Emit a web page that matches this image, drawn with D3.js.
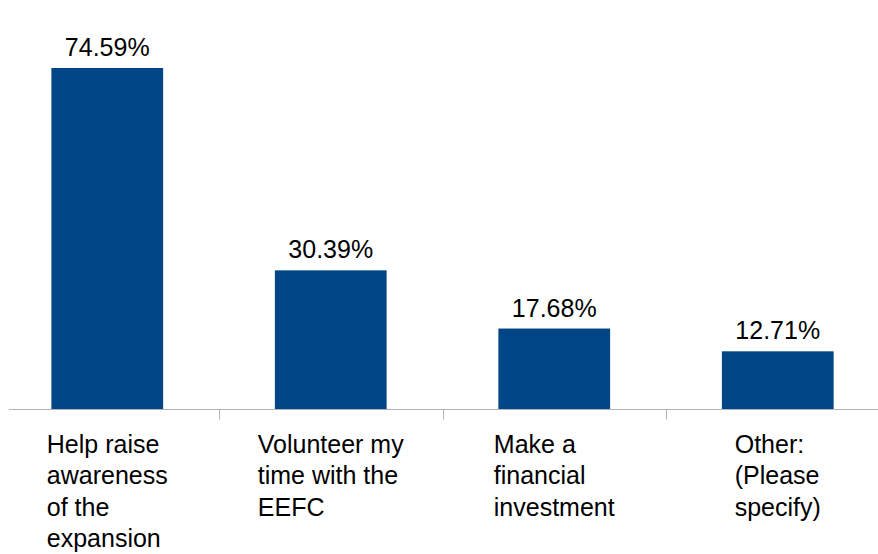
<!DOCTYPE html>
<html>
<head>
<meta charset="utf-8">
<script src="https://cdn.jsdelivr.net/npm/d3@7"></script>
<style>
  html, body { margin: 0; padding: 0; background: #fff; }
  svg { display: block; }
  text { font-family: "Liberation Sans", Arial, sans-serif; fill: #000; }
</style>
</head>
<body>
<svg id="chart" width="878" height="554"></svg>
<script>
// Survey responses: how people would support the expansion
const categories = [
  ["Help raise", "awareness", "of the", "expansion"],
  ["Volunteer my", "time with the", "EEFC"],
  ["Make a", "financial", "investment"],
  ["Other:", "(Please", "specify)"]
];
const values = [74.59, 30.39, 17.68, 12.71];
const valueLabels = ["74.59%", "30.39%", "17.68%", "12.71%"];

const svg = d3.select("#chart");
const baseY = 409.5;
const fontSize = 25;
const lineHeight = 31.5;

const keys = categories.map((c, i) => i);

const x = d3.scaleBand()
  .domain(keys)
  .range([-4.5, 889.5])
  .paddingInner(0.5)
  .paddingOuter(0.25);

const y = d3.scaleLinear()
  .domain([0, 80])
  .range([baseY, baseY - 366.3]);

const step = x.step();

// Bars
svg.append("g")
  .selectAll("rect")
  .data(values)
  .join("rect")
  .attr("x", (d, i) => x(i))
  .attr("width", x.bandwidth())
  .attr("y", d => y(d))
  .attr("height", d => y(0) - y(d))
  .attr("fill", "#004586");

// Category axis line and separators
const axis = svg.append("g").attr("stroke", "#b3b3b3").attr("stroke-width", 1);
axis.append("line")
  .attr("x1", 9).attr("x2", 878)
  .attr("y1", baseY).attr("y2", baseY);
axis.selectAll("line.tick")
  .data(keys.slice(1))
  .join("line")
  .attr("class", "tick")
  .attr("x1", i => Math.round(x(i) - step * 0.25) + 0.5)
  .attr("x2", i => Math.round(x(i) - step * 0.25) + 0.5)
  .attr("y1", baseY)
  .attr("y2", baseY + 10);

// Value labels
svg.append("g")
  .selectAll("text")
  .data(values)
  .join("text")
  .attr("x", (d, i) => x(i) + x.bandwidth() / 2)
  .attr("y", d => y(d) - 12)
  .attr("text-anchor", "middle")
  .attr("font-size", fontSize)
  .text((d, i) => valueLabels[i]);

// Category labels: block centred under the bar, lines left-aligned
const labelGroups = svg.append("g")
  .selectAll("g")
  .data(categories)
  .join("g");

labelGroups.each(function (lines, i) {
  const g = d3.select(this);
  const t = g.append("text").attr("font-size", fontSize);
  t.selectAll("tspan")
    .data(lines)
    .join("tspan")
    .attr("x", 0)
    .attr("y", (d, j) => 452.7 + j * lineHeight)
    .text(d => d);
  let maxW = 0;
  t.selectAll("tspan").each(function () {
    maxW = Math.max(maxW, this.getComputedTextLength());
  });
  const cx = x(i) + x.bandwidth() / 2;
  g.attr("transform", `translate(${cx - maxW / 2},0)`);
});
</script>
</body>
</html>
